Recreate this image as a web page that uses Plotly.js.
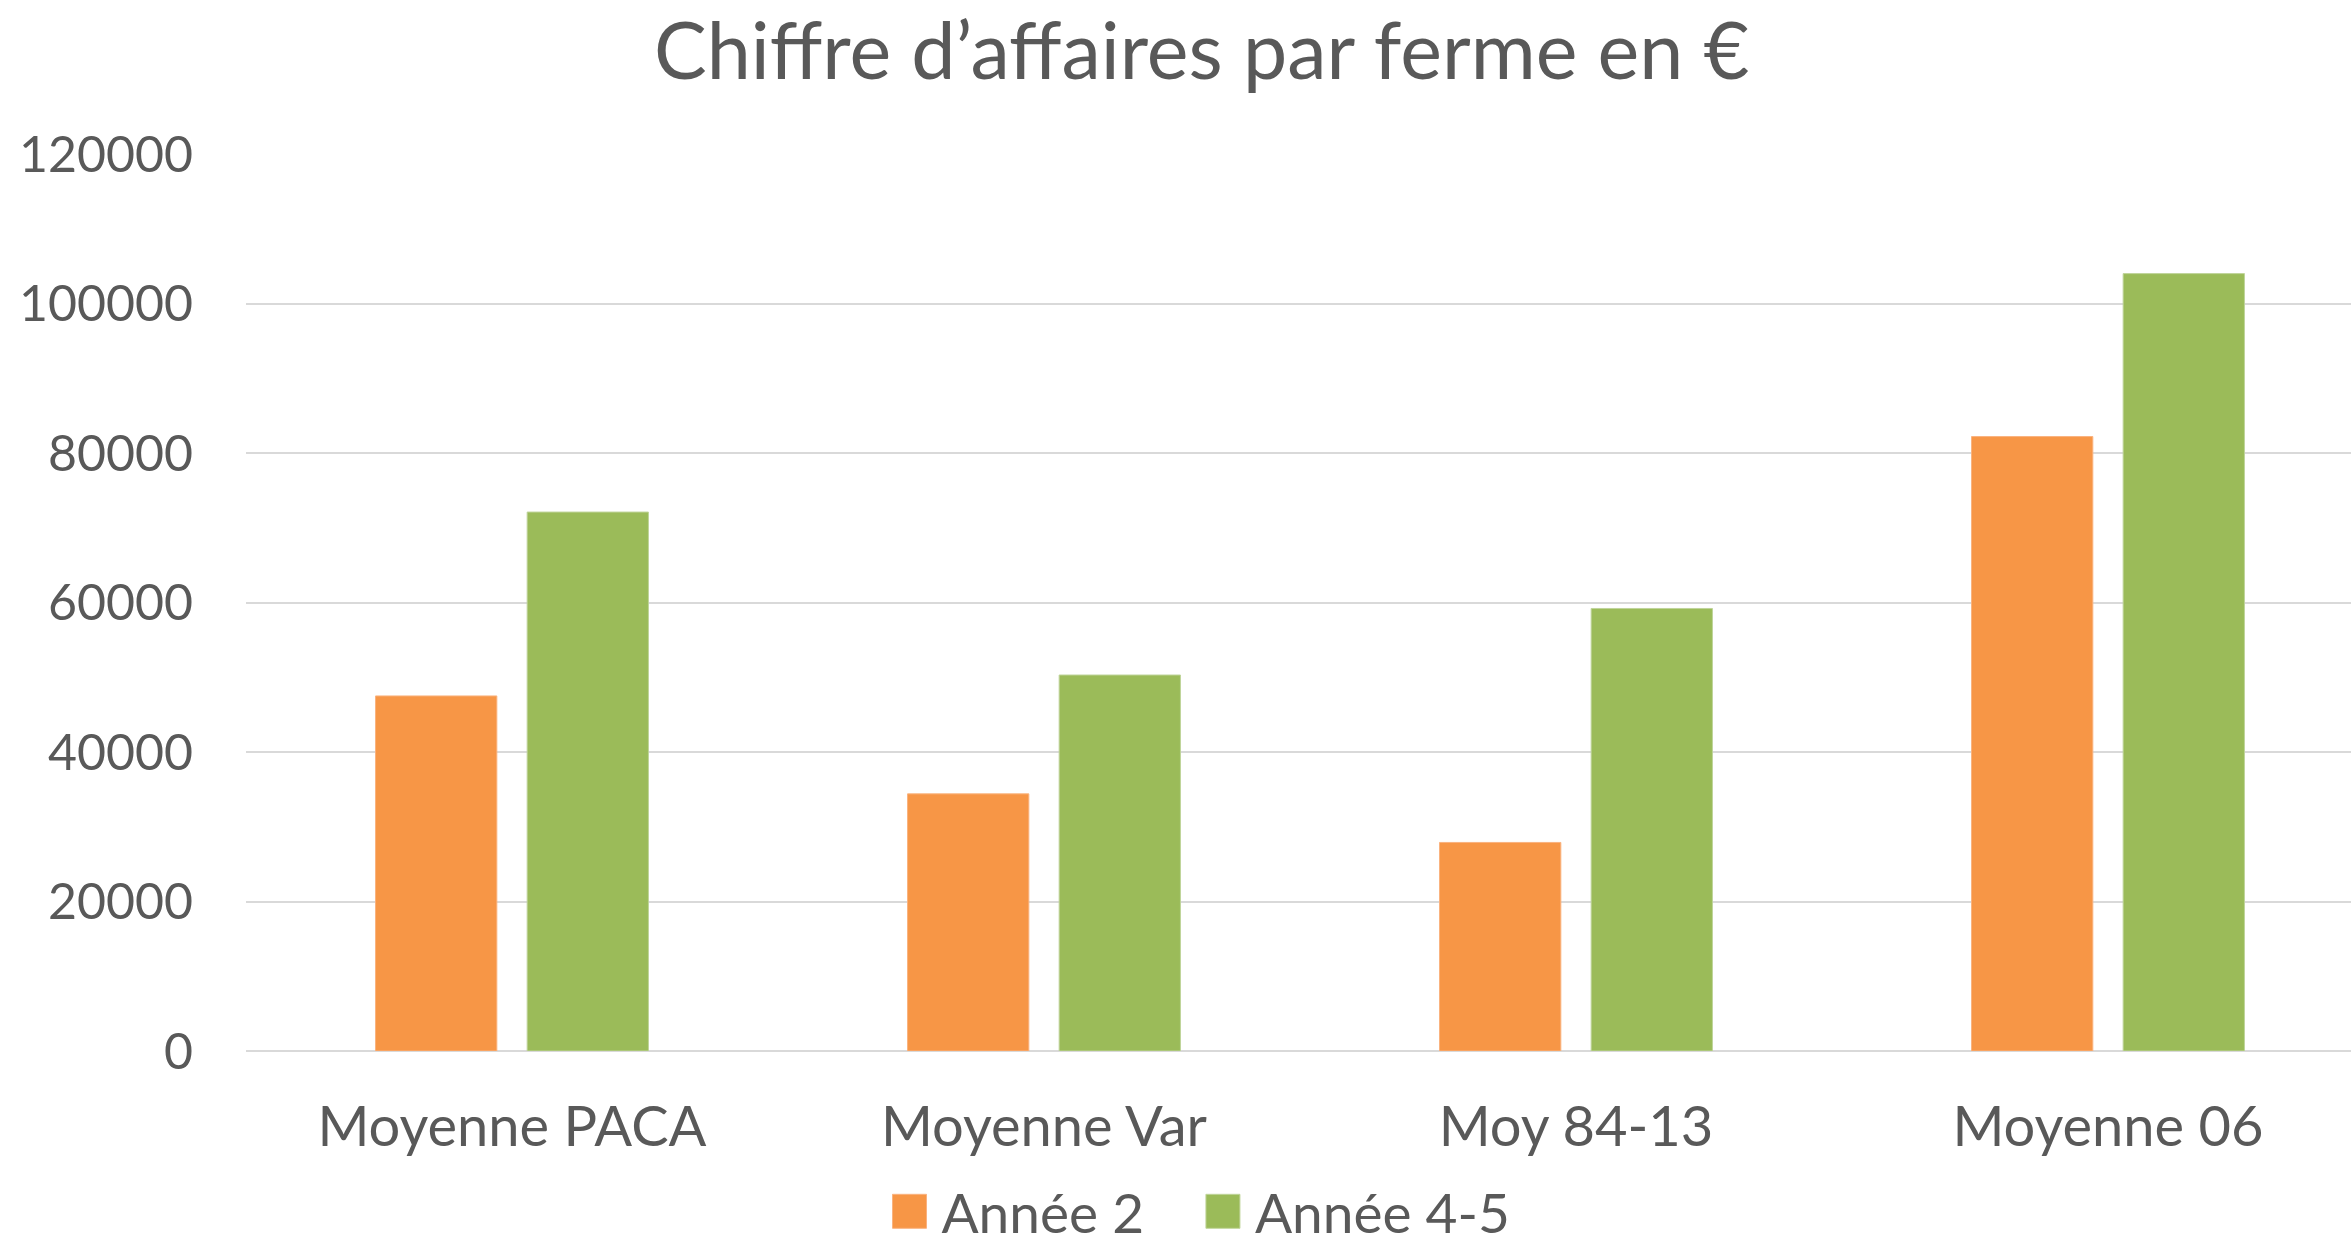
<!DOCTYPE html>
<html>
<head>
<meta charset="utf-8">
<script src="https://cdn.plot.ly/plotly-3.0.1.min.js"></script>
<style>html,body{margin:0;padding:0;background:#fff;}#chart{width:2351px;height:1249px;}</style>
</head>
<body>
<div id="chart"></div>
<script>
const categories = ["Moyenne PACA", "Moyenne Var", "Moy 84-13", "Moyenne 06"];
const seriesNames = ["Année 2", "Année 4-5"];
const annee2 = [47500, 34400, 27900, 82200];
const annee45 = [72100, 50300, 59200, 104000];
const yTicks = [0, 20000, 40000, 60000, 80000, 100000, 120000];
const titleText = "Chiffre d’affaires par ferme en €";

const FONT = "Lato, 'Open Sans', sans-serif";
const TXT = "#595959";

const traces = [
  {type: "bar", name: seriesNames[0], x: categories, y: annee2, legend: "legend",
   marker: {color: "#F79646", line: {color: "#FAB27E", width: 1}}},
  {type: "bar", name: seriesNames[1], x: categories, y: annee45, legend: "legend2",
   marker: {color: "#9BBB59", line: {color: "#BFD49A", width: 1}}}
];

const legendBase = {orientation: "h", xanchor: "left", y: -0.179, yanchor: "middle",
  font: {family: FONT, size: 55, color: TXT}, itemwidth: 54,
  bgcolor: "rgba(0,0,0,0)", borderwidth: 0};

const layout = {
  width: 2351, height: 1249,
  margin: {l: 246, r: 0, t: 154, b: 198, pad: 0, autoexpand: false},
  paper_bgcolor: "#ffffff", plot_bgcolor: "#ffffff",
  font: {family: FONT, color: TXT},
  title: {text: titleText, x: 0.454, xref: "paper", xanchor: "center",
          y: 0.959, yref: "container", yanchor: "middle",
          font: {family: FONT, size: 79, color: TXT}},
  barmode: "group", bargap: 0.43, bargroupgap: 0.2,
  xaxis: {type: "category", range: [-0.5, 3.4568], showgrid: false, showline: false,
          zeroline: false, ticks: "", ticklabelstandoff: 38, automargin: false,
          tickfont: {family: FONT, size: 56, color: TXT}},
  yaxis: {range: [0, 120000], tickvals: yTicks, ticktext: yTicks.map(String),
          showgrid: true, gridcolor: "#d9d9d9", gridwidth: 2,
          zeroline: true, zerolinecolor: "#d9d9d9", zerolinewidth: 2,
          showline: false, ticks: "", ticklabelstandoff: 52, automargin: false,
          tickfont: {family: FONT, size: 50, color: TXT}},
  showlegend: true,
  legend: Object.assign({}, legendBase, {x: 0.3}),
  legend2: Object.assign({}, legendBase, {x: 0.4489})
};

Plotly.newPlot("chart", traces, layout, {staticPlot: true, displayModeBar: false}).then(function(gd){
  document.querySelectorAll("#chart g.legendpoints path").forEach(function(p){
    const t = p.getAttribute("transform") || "";
    p.setAttribute("transform", t + " scale(2.833)");
    p.style.strokeWidth = "0.35px";
  });
});
</script>
</body>
</html>
